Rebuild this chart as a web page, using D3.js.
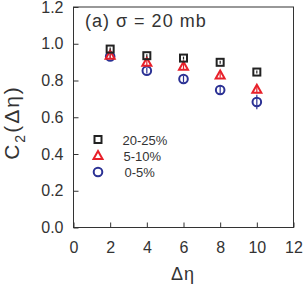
<!DOCTYPE html>
<html>
<head>
<meta charset="utf-8">
<script src="https://cdn.jsdelivr.net/npm/d3@7"></script>
<style>
  body { margin: 0; background: #fff; }
  text { font-family: "Liberation Sans", Arial, sans-serif; fill: #333; }
</style>
</head>
<body>
<script>
// data
const deta = [2, 4, 6, 8, 10]
const c20_25 = [0.971, 0.935, 0.922, 0.899, 0.846]
const c20_25Err = [0.008, 0.008, 0.008, 0.008, 0.008]
const c5_10 = [0.938, 0.899, 0.877, 0.83, 0.752]
const c5_10Err = [0.015, 0.015, 0.015, 0.015, 0.022]
const c0_5 = [0.931, 0.853, 0.808, 0.748, 0.683]
const c0_5Err = [0.015, 0.015, 0.018, 0.022, 0.04]
const xTicks = [0, 2, 4, 6, 8, 10, 12]
const yTicks = [0.0, 0.2, 0.4, 0.6, 0.8, 1.0, 1.2]

const width = 304, height = 284
const mLeft = 73.5, mRight = 293.5, mTop = 7, mBottom = 227.5

const svg = d3.select('body').append('svg')
    .attr('width', width)
    .attr('height', height)

const x = d3.scaleLinear().domain([0, 12]).range([mLeft, mRight])
const y = d3.scaleLinear().domain([0, 1.2]).range([mBottom, mTop])

// frame
svg.append('rect')
    .attr('x', mLeft).attr('y', mTop)
    .attr('width', mRight - mLeft).attr('height', mBottom - mTop)
    .attr('fill', 'none').attr('stroke', '#333').attr('stroke-width', 1)

// axes, ticks inward
const xAxis = d3.axisBottom(x).tickValues(xTicks).tickSize(-5).tickPadding(14)
    .tickFormat(d3.format('d'))
svg.append('g').attr('transform', `translate(0,${mBottom})`).call(xAxis)
    .call(g => g.select('.domain').remove())
    .call(g => g.selectAll('line').attr('stroke', '#333'))
    .call(g => g.selectAll('text').attr('font-size', 16).attr('fill', '#333'))

const yAxis = d3.axisLeft(y).tickValues(yTicks).tickSize(-5).tickPadding(10)
    .tickFormat(d3.format('.1f'))
svg.append('g').attr('transform', `translate(${mLeft},0)`).call(yAxis)
    .call(g => g.select('.domain').remove())
    .call(g => g.selectAll('line').attr('stroke', '#333'))
    .call(g => g.selectAll('text').attr('font-size', 16).attr('fill', '#333'))

// axis titles
svg.append('text')
    .attr('x', 183).attr('y', 280)
    .attr('text-anchor', 'middle')
    .attr('font-size', 18)
    .attr('letter-spacing', 1)
    .text('\u0394\u03b7')

const yt = svg.append('text')
    .attr('transform', 'translate(18.5,122.5) rotate(-90)')
    .attr('text-anchor', 'middle')
    .attr('font-size', 21)
    .attr('letter-spacing', 2)
yt.append('tspan').text('C')
yt.append('tspan').attr('font-size', 14).attr('dy', 6).text('2')
yt.append('tspan').attr('dy', -6).text('(\u0394\u03b7)')

svg.append('text')
    .attr('x', 85).attr('y', 27)
    .attr('font-size', 18)
    .attr('letter-spacing', 1)
    .text('(a) \u03c3 = 20 mb')

const series = [
    { name: '20-25%', vals: c20_25, err: c20_25Err, color: '#222', shape: 'square' },
    { name: '5-10%', vals: c5_10, err: c5_10Err, color: '#e8202a', shape: 'triangle' },
    { name: '0-5%', vals: c0_5, err: c0_5Err, color: '#2b3194', shape: 'circle' }
]

function drawMarker(g, shape, color) {
    if (shape === 'square') {
        g.append('rect').attr('x', -3.5).attr('y', -3.5).attr('width', 7).attr('height', 7)
            .attr('fill', 'none').attr('stroke', color).attr('stroke-width', 2)
    } else if (shape === 'triangle') {
        g.append('path').attr('d', 'M0,-4.5L4.5,3.5L-4.5,3.5Z')
            .attr('fill', 'none').attr('stroke', color).attr('stroke-width', 2)
    } else {
        g.append('circle').attr('r', 4.3)
            .attr('fill', 'none').attr('stroke', color).attr('stroke-width', 2)
    }
}

// circles first, squares on top
series.slice().reverse().forEach(s => {
    const g = svg.append('g')
    deta.forEach((d, i) => {
        const v = s.vals[i], e = s.err[i]
        g.append('line')
            .attr('x1', x(d)).attr('x2', x(d))
            .attr('y1', y(v - e)).attr('y2', y(v + e))
            .attr('stroke', s.color).attr('stroke-width', 1.2)
        const m = g.append('g').attr('transform', `translate(${x(d)},${y(v)})`)
        drawMarker(m, s.shape, s.color)
    })
})

// legend
const legendY = [139.5, 155.5, 172]
const legend = svg.append('g')
series.forEach((s, i) => {
    const ly = legendY[i]
    const m = legend.append('g').attr('transform', `translate(98,${ly})`)
    drawMarker(m, s.shape, s.color)
    legend.append('text')
        .attr('x', 122.5 + i).attr('y', ly + 5)
        .attr('font-size', 13)
        .text(s.name)
})
</script>
</body>
</html>
